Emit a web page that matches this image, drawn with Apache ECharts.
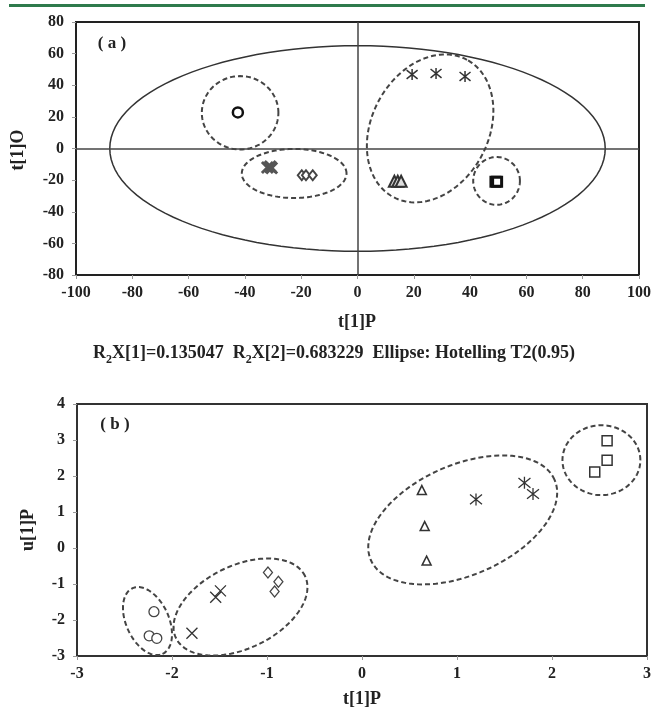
<!DOCTYPE html>
<html>
<head>
<meta charset="utf-8">
<script src="https://cdn.jsdelivr.net/npm/echarts@6/dist/echarts.min.js"></script>
<style>
html,body{margin:0;padding:0;background:#fff;}
#chart{width:655px;height:707px;}
</style>
</head>
<body>
<div id="chart"></div>
<script>
// ---------- data: panel (a) score plot t[1]P vs t[1]O ----------
const aXTicks = [-100, -80, -60, -40, -20, 0, 20, 40, 60, 80, 100];
const aYTicks = [-80, -60, -40, -20, 0, 20, 40, 60, 80];
const aCircle   = [[-42.5, 22.8]];
const aCross    = [[-32.0, -12.0], [-31.0, -11.5], [-30.5, -12.3]];
const aDiamond  = [[-19.8, -16.9], [-18.3, -16.9], [-15.9, -16.9]];
const aStar     = [[19.4, 46.8], [27.9, 47.5], [38.2, 45.6]];
const aTriangle = [[13.1, -20.7], [14.3, -20.7], [15.5, -20.7]];
const aSquare   = [[49.0, -21.0], [49.6, -21.0]];

// ---------- data: panel (b) t[1]P vs u[1]P ----------
const bXTicks = [-3, -2, -1, 0, 1, 2, 3];
const bYTicks = [-3, -2, -1, 0, 1, 2, 3, 4];
const bSquare   = [[2.58, 2.98], [2.58, 2.44], [2.45, 2.11]];
const bStar     = [[1.71, 1.81], [1.80, 1.50], [1.20, 1.35]];
const bTriangle = [[0.63, 1.61], [0.66, 0.61], [0.68, -0.35]];
const bDiamond  = [[-0.99, -0.68], [-0.88, -0.94], [-0.92, -1.21]];
const bCross    = [[-1.49, -1.19], [-1.54, -1.37], [-1.79, -2.37]];
const bCircle   = [[-2.19, -1.77], [-2.24, -2.44], [-2.16, -2.51]];

// ---------- group ellipses (centre, conjugate half-axes in data units) ----------
const aEllipseCenters = [[0, 0], [-41.7, 22.6], [-22.5, -15.8], [25.8, 12.7], [49.4, -20.5]];
const aEllipseU = [[88, 0], [13.6, 0], [18.6, 0], [13.1, 43.4], [8.3, 0]];
const aEllipseV = [[0, 65], [0, 23.2], [0, 15.5], [-18.26, 17.5], [0, 15.1]];
const aEllipseDashed = [false, true, true, true, true];

const bEllipseCenters = [[2.52, 2.44], [1.06, 0.78], [-1.279, -1.64], [-2.258, -2.03]];
const bEllipseU = [[0.41, 0], [0.967, 1.115], [0.679, 0.8625], [0.158, -0.912]];
const bEllipseV = [[0, 0.97], [-0.232, 1.402], [-0.189, 1.036], [0.204, 0.246]];

const SERIF = "'Liberation Serif','DejaVu Serif',serif";
const CROSS = 'path://M0,0L10,10M10,0L0,10';
const STAR = 'path://M1,1L9,9M9,1L1,9M5,0L5,10';

function ellipseSeries(centers, us, vs, dashed, xi, yi) {
  return {
    type: 'custom',
    xAxisIndex: xi, yAxisIndex: yi,
    silent: true, z: 1,
    clip: false,
    data: centers,
    renderItem: function (params, api) {
      const i = params.dataIndex;
      const c = centers[i], u = us[i], v = vs[i];
      const pts = [];
      const N = 120;
      for (let k = 0; k < N; k++) {
        const t = 2 * Math.PI * k / N;
        pts.push(api.coord([
          c[0] + u[0] * Math.cos(t) + v[0] * Math.sin(t),
          c[1] + u[1] * Math.cos(t) + v[1] * Math.sin(t)
        ]));
      }
      const isDash = dashed ? dashed[i] : true;
      return {
        type: 'polygon',
        shape: { points: pts },
        style: {
          fill: 'none',
          stroke: isDash ? '#444' : '#333',
          lineWidth: isDash ? 2 : 1.5,
          lineDash: isDash ? [5, 3] : null
        }
      };
    }
  };
}

function scatter(data, xi, yi, symbol, size, fill, stroke, bw, extra) {
  return Object.assign({
    type: 'scatter', xAxisIndex: xi, yAxisIndex: yi, z: 3,
    data: data, symbol: symbol, symbolSize: size,
    itemStyle: { color: fill, borderColor: stroke, borderWidth: bw, opacity: 1 },
    emphasis: { disabled: true }
  }, extra || {});
}

const axisLabelStyle = { fontFamily: SERIF, fontWeight: 'bold', fontSize: 16, color: '#222' };

function xAx(grid, min, max, interval) {
  return {
    type: 'value', gridIndex: grid, min: min, max: max, interval: interval,
    axisLine: { show: false, onZero: false },
    axisTick: { show: true, length: 4, lineStyle: { color: '#999' } },
    splitLine: { show: false },
    axisLabel: Object.assign({ margin: 10 }, axisLabelStyle)
  };
}
function yAx(grid, min, max, interval) {
  return {
    type: 'value', gridIndex: grid, min: min, max: max, interval: interval,
    axisLine: { show: false, onZero: false },
    axisTick: { show: true, length: 4, lineStyle: { color: '#999' } },
    splitLine: { show: false },
    axisLabel: Object.assign({ margin: 12 }, axisLabelStyle)
  };
}

const chart = echarts.init(document.getElementById('chart'), null, { renderer: 'canvas' });
chart.setOption({
  animation: false,
  backgroundColor: '#fff',
  grid: [
    { left: 76, top: 22, width: 563, height: 253, show: true, borderColor: '#222', borderWidth: 2, backgroundColor: 'transparent' },
    { left: 77, top: 404, width: 570, height: 252, show: true, borderColor: '#333', borderWidth: 2, backgroundColor: 'transparent' }
  ],
  xAxis: [
    xAx(0, aXTicks[0], aXTicks[aXTicks.length - 1], 20),
    xAx(1, bXTicks[0], bXTicks[bXTicks.length - 1], 1)
  ],
  yAxis: [
    yAx(0, aYTicks[0], aYTicks[aYTicks.length - 1], 20),
    yAx(1, bYTicks[0], bYTicks[bYTicks.length - 1], 1)
  ],
  graphic: [
    { type: 'rect', shape: { x: 9, y: 4, width: 636, height: 3 }, style: { fill: '#2f7a4c' } },
    { type: 'text', x: 112, y: 44, style: { text: '( a )', font: 'bold 17px ' + SERIF, fill: '#222', align: 'center', verticalAlign: 'middle' } },
    { type: 'text', x: 115, y: 425, style: { text: '( b )', font: 'bold 17px ' + SERIF, fill: '#222', align: 'center', verticalAlign: 'middle' } },
    { type: 'text', x: 18, y: 150, rotation: Math.PI / 2, style: { text: 't[1]O', font: 'bold 18px ' + SERIF, fill: '#222', align: 'center', verticalAlign: 'middle' } },
    { type: 'text', x: 357, y: 322, style: { text: 't[1]P', font: 'bold 18px ' + SERIF, fill: '#222', align: 'center', verticalAlign: 'middle' } },
    { type: 'text', x: 28, y: 530, rotation: Math.PI / 2, style: { text: 'u[1]P', font: 'bold 18px ' + SERIF, fill: '#222', align: 'center', verticalAlign: 'middle' } },
    { type: 'text', x: 362, y: 699, style: { text: 't[1]P', font: 'bold 18px ' + SERIF, fill: '#222', align: 'center', verticalAlign: 'middle' } },
    { type: 'text', x: 334, y: 353, style: {
        text: '{t|R}{s|2}{t|X[1]=0.135047  R}{s|2}{t|X[2]=0.683229  Ellipse: Hotelling T2(0.95)}',
        align: 'center', verticalAlign: 'middle',
        rich: {
          t: { fontFamily: SERIF, fontWeight: 'bold', fontSize: 18, fill: '#222', verticalAlign: 'bottom' },
          s: { fontFamily: SERIF, fontWeight: 'bold', fontSize: 12, fill: '#222', verticalAlign: 'bottom', padding: [0, 0, -4, 0] }
        }
      } }
  ],
  series: [
    ellipseSeries(aEllipseCenters, aEllipseU, aEllipseV, aEllipseDashed, 0, 0),
    ellipseSeries(bEllipseCenters, bEllipseU, bEllipseV, null, 1, 1),
    scatter(aCircle, 0, 0, 'circle', 10, '#fff', '#111', 2.5, {
      markLine: {
        silent: true, symbol: ['none', 'none'], label: { show: false },
        lineStyle: { color: '#444', width: 1.5, type: 'solid' },
        emphasis: { disabled: true },
        data: [{ xAxis: 0 }, { yAxis: 0 }]
      }
    }),
    scatter(aCross, 0, 0, CROSS, 11, '#555', '#555', 3),
    scatter(aDiamond, 0, 0, 'diamond', [8, 10], '#fff', '#444', 2),
    scatter(aStar, 0, 0, STAR, 11, '#333', '#333', 1.5),
    scatter(aTriangle, 0, 0, 'triangle', 11, '#ddd', '#333', 2),
    scatter(aSquare, 0, 0, 'rect', 9, '#fff', '#111', 3),
    scatter(bSquare, 1, 1, 'rect', 10, '#fff', '#333', 1.5),
    scatter(bStar, 1, 1, STAR, 12, '#333', '#333', 1.3),
    scatter(bTriangle, 1, 1, 'triangle', 9, '#fff', '#333', 1.5),
    scatter(bDiamond, 1, 1, 'diamond', [9, 11], '#fff', '#444', 1.3),
    scatter(bCross, 1, 1, CROSS, 11, '#333', '#333', 1.3),
    scatter(bCircle, 1, 1, 'circle', 10, '#fff', '#444', 1.3)
  ]
});
</script>
</body>
</html>
